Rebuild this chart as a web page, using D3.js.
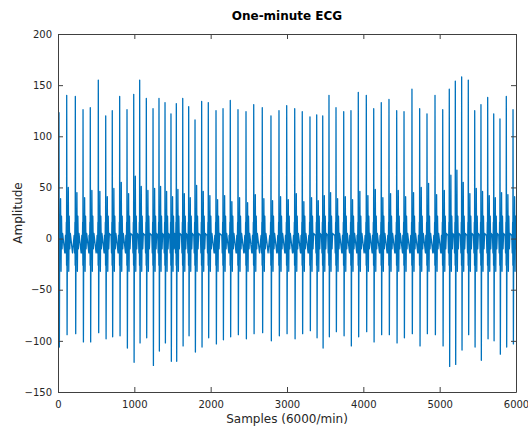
<!DOCTYPE html>
<html>
<head>
<meta charset="utf-8">
<script src="https://cdn.jsdelivr.net/npm/d3@7"></script>
<style>
  body { margin: 0; background: #fff; }
  svg { display: block; }
</style>
</head>
<body>
<svg id="chart" width="528" height="427"></svg>
<script>
// ---- data ----
// sample index of each R peak
var rPos = [13, 114, 227, 328, 423, 528, 625, 711, 808, 904, 992, 1070, 1157, 1245, 1323, 1402, 1480, 1550, 1634, 1712, 1795, 1882, 1969,
  2070, 2162, 2257, 2358, 2463, 2564, 2676, 2790, 2895, 2996, 3101, 3200, 3301, 3389, 3468, 3550, 3642, 3743, 3838, 3934,
  4039, 4136, 4235, 4336, 4437, 4533, 4637, 4738, 4834, 4939, 5040, 5126, 5205, 5288, 5375, 5459, 5541, 5629, 5708, 5790, 5873, 5961];
// R peak heights
var rAmp = [123, 140, 139, 126, 128, 155, 120, 125, 139, 126, 141, 155, 137, 127, 137, 133, 122, 132, 137, 129, 116, 134, 133,
  125, 127, 135, 126, 124, 131, 128, 120, 125, 130, 127, 124, 119, 121, 120, 140, 128, 124, 125, 143,
  140, 127, 133, 136, 125, 124, 146, 127, 122, 140, 126, 146, 154, 158, 155, 125, 131, 138, 122, 117, 139, 126];
// S trough depths
var sAmp = [-106, -94, -93, -101, -101, -92, -98, -96, -95, -107, -121, -102, -97, -124, -110, -102, -120, -120, -105, -95, -111, -106, -97,
  -103, -99, -96, -94, -98, -93, -92, -100, -95, -93, -98, -93, -90, -97, -107, -96, -91, -95, -105, -96,
  -91, -101, -94, -94, -102, -97, -93, -105, -93, -94, -105, -125, -123, -109, -94, -106, -119, -98, -100, -113, -106, -103];
// second (smaller) positive wave after each QRS
var p2Amp = [39, 50, 45, 40, 47, 46, 41, 49, 55, 44, 61, 51, 47, 49, 51, 46, 41, 48,
  44, 40, 52, 46, 42,
  38, 42, 36, 40, 35, 43, 39, 37, 41, 38, 44, 36, 40, 37, 42, 45, 39, 41, 38, 46,
  42, 48, 40, 44, 47, 41, 45, 50, 54, 43, 47, 62, 67, 55, 44, 49, 46, 42, 40, 45, 43, 41];
// shape of one beat around its R peak: sample offset and level (null = taken from the arrays above)
var beatOffsets = [-16, -10, -5, -2, 0, 5, 10, 15, 21, 27, 33, 40, 48, 76];
var beatLevels = [3, -14, 16, -26, null, null, 20, -20, null, -32, 22, -10, 5, -14];
var R_IDX = 4, S_IDX = 5, P2_IDX = 8;

var xTicks = [0, 1000, 2000, 3000, 4000, 5000, 6000];
var yTicks = [-150, -100, -50, 0, 50, 100, 150, 200];

// ---- layout ----
var svg = d3.select("#chart");
var mLeft = 58, mRight = 516, mTop = 34, mBottom = 392;

var x = d3.scaleLinear().domain([0, 6000]).range([mLeft, mRight]);
var y = d3.scaleLinear().domain([-150, 200]).range([mBottom, mTop]);

// build the trace beat by beat
var pts = [];
rPos.forEach(function(r, i) {
  var nextStart = i < rPos.length - 1 ? rPos[i + 1] + beatOffsets[0] : 99999;
  beatOffsets.forEach(function(o, k) {
    var v = beatLevels[k];
    if (k == R_IDX) v = rAmp[i];
    if (k == S_IDX) v = sAmp[i];
    if (k == P2_IDX) v = p2Amp[i];
    var s = r + o;
    if (s < 0 || s >= nextStart) return;
    pts.push([s, v]);
  });
});

svg.append("clipPath").attr("id", "clip")
  .append("rect")
  .attr("x", mLeft).attr("y", mTop)
  .attr("width", mRight - mLeft).attr("height", mBottom - mTop);

var line = d3.line()
  .x(function(d) { return x(d[0]); })
  .y(function(d) { return y(d[1]); });

svg.append("path")
  .datum(pts)
  .attr("clip-path", "url(#clip)")
  .attr("d", line)
  .attr("fill", "none")
  .attr("stroke", "#0072BD")
  .attr("stroke-width", 1.3)
  .attr("stroke-linejoin", "round");

// ---- axes (matlab style, ticks inside) ----
var axisColor = "#404040";
var fmt = d3.format("d");

var gx = svg.append("g")
  .attr("transform", "translate(0," + mBottom + ")")
  .call(d3.axisBottom(x).tickValues(xTicks).tickFormat(fmt).tickSizeInner(-5).tickSizeOuter(0).tickPadding(9));
var gy = svg.append("g")
  .attr("transform", "translate(" + mLeft + ",0)")
  .call(d3.axisLeft(y).tickValues(yTicks).tickFormat(fmt).tickSizeInner(-5).tickSizeOuter(0).tickPadding(6));
var gxTop = svg.append("g")
  .attr("transform", "translate(0," + mTop + ")")
  .call(d3.axisTop(x).tickValues(xTicks).tickSizeInner(-5).tickSizeOuter(0).tickFormat(""));
var gyRight = svg.append("g")
  .attr("transform", "translate(" + mRight + ",0)")
  .call(d3.axisRight(y).tickValues(yTicks).tickSizeInner(-5).tickSizeOuter(0).tickFormat(""));

[gx, gy, gxTop, gyRight].forEach(function(g) {
  g.selectAll("path").attr("stroke", axisColor);
  g.selectAll("line").attr("stroke", axisColor);
  g.selectAll("text")
    .style("font-family", "DejaVu Sans, sans-serif")
    .style("font-size", "10px")
    .attr("fill", "#262626");
});

// ---- titles ----
svg.append("text")
  .attr("x", (mLeft + mRight) / 2)
  .attr("y", 20)
  .attr("text-anchor", "middle")
  .style("font-family", "DejaVu Sans, sans-serif")
  .style("font-weight", "bold")
  .style("font-size", "12px")
  .text("One-minute ECG")

svg.append("text")
  .attr("x", (mLeft + mRight) / 2)
  .attr("y", 423)
  .attr("text-anchor", "middle")
  .style("font-family", "DejaVu Sans, sans-serif")
  .style("font-size", "12px")
  .attr("fill", "#262626")
  .text("Samples (6000/min)")

svg.append("text")
  .attr("transform", "translate(22," + ((mTop + mBottom) / 2) + ") rotate(-90)")
  .attr("text-anchor", "middle")
  .style("font-family", "DejaVu Sans, sans-serif")
  .style("font-size", "12px")
  .attr("fill", "#262626")
  .text("Amplitude")
</script>
</body>
</html>
